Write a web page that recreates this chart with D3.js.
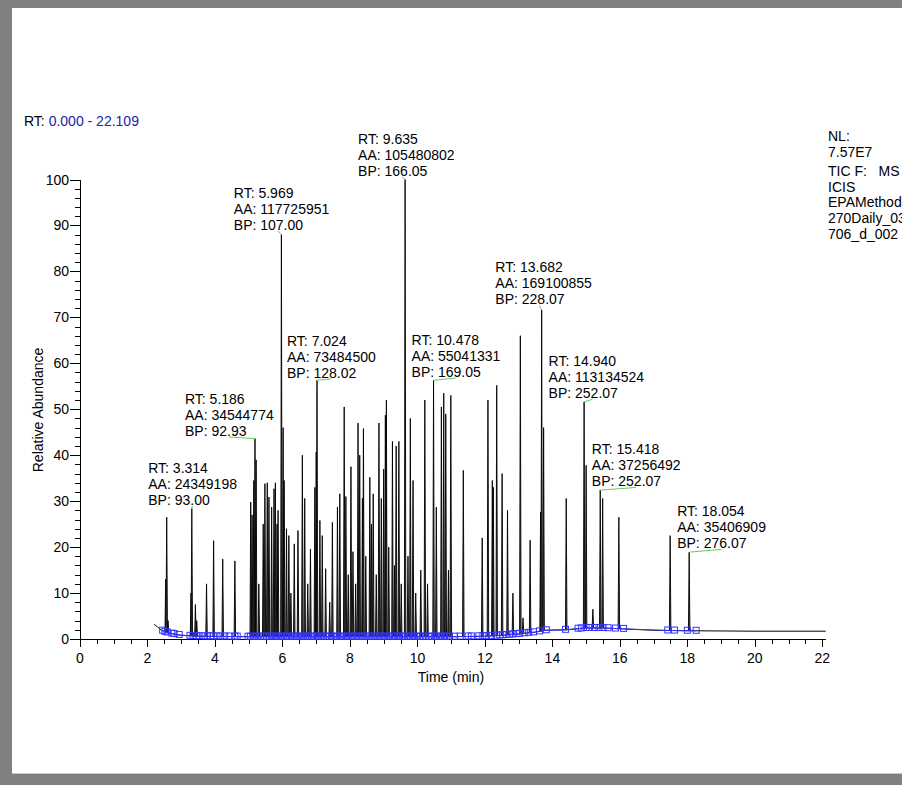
<!DOCTYPE html>
<html><head><meta charset="utf-8">
<script src="https://cdn.jsdelivr.net/npm/d3@7"></script>
<style>
html,body{margin:0;padding:0;background:#808080;}
svg{display:block;font-family:"Liberation Sans",Arial,sans-serif;}
</style></head><body>
<svg id="c" width="902" height="785"></svg>
<script>
// ---- data ----
const rtRange = ["RT:", " 0.000 - 22.109"];
const infoLines = ["NL:", "7.57E7", "TIC F:   MS", "ICIS", "EPAMethod", "270Daily_03", "706_d_002"];
const xTickValues = d3.range(0, 23, 2);
const yTickValues = d3.range(0, 101, 10);

// peaks: [retention time (min), relative abundance]
const peaks = [
 [2.54,13],[2.57,26.5],[2.61,4],
 [3.29,10],[3.314,28.4],[3.42,7.5],[3.46,4],
 [3.75,12],[3.96,21.4],[4.23,17.4],[4.59,17],
 [5.06,29.8],[5.10,27],[5.15,34.5],[5.186,43.6],[5.22,39],[5.30,12],[5.43,25],[5.48,33.8],
 [5.55,34],[5.60,30.9],[5.68,28.7],[5.75,32.7],[5.79,34],[5.84,25],[5.87,28],[5.969,88],
 [6.02,46],[6.05,34.5],[6.12,24],[6.19,22.5],[6.25,10],[6.35,20.7],[6.46,23.6],[6.59,40],
 [6.66,30.6],[6.75,12],[6.83,19.6],[6.96,33],[7.00,40.7],[7.024,56.3],[7.11,25.8],[7.18,22.5],
 [7.28,15.3],[7.40,8],[7.48,25.4],[7.63,28.7],[7.70,31.6],[7.83,50.5],[7.88,31],[7.95,14],
 [8.03,37.5],[8.09,19],[8.17,12],[8.24,47],[8.29,40],[8.37,30.6],[8.40,45.8],[8.47,18],
 [8.59,35.2],[8.64,25],[8.69,31.6],[8.78,14],[8.86,47],[8.93,30.6],[9.00,37],[9.05,48.7],
 [9.08,52],[9.15,20],[9.26,43],[9.32,16],[9.37,42],[9.45,43],[9.52,12],[9.635,100],
 [9.72,18],[9.79,48],[9.87,34.5],[9.95,10],[10.10,15],[10.22,52],[10.30,12],[10.478,56.3],
 [10.56,28.7],[10.71,50.5],[10.78,53.5],[10.84,49],[10.92,15],[10.99,53],[11.36,36.7],
 [11.92,22],[12.09,52],[12.22,34.5],[12.25,33],[12.35,55.2],[12.51,36],[12.67,28],[12.83,10],
 [13.05,66],[13.13,4.6],[13.34,21.5],[13.65,27.6],[13.682,71.6],[13.74,46],
 [14.41,30.6],[14.94,51.6],[15.00,37.8],[15.20,6.5],[15.418,32.4],[15.49,30.6],[15.97,26.5],
 [17.49,22.5],[18.054,18.9]
];

// baseline of the trace: [time, relative abundance]
const baseline = [
 [2.2,3.2],[2.3,2.6],[2.4,2.0],[2.5,1.6],[2.7,1.2],[3.0,0.8],[3.5,0.6],[5,0.5],[11,0.5],
 [12,0.6],[12.5,0.8],[13,1.1],[13.5,1.5],[13.8,1.9],[14.4,2.0],[15.0,2.4],[15.5,2.4],
 [16.1,2.2],[17,1.9],[18,1.8],[20,1.7],[22.1,1.7]
];

// ICIS peak start/end markers (times)
const markers = [
 2.45,2.52,2.59,2.72,2.79,2.94,3.26,3.35,3.45,3.53,3.67,3.77,3.87,3.95,4.06,4.17,4.29,4.42,4.59,4.66,
 4.98,5.05,5.13,5.21,5.28,5.35,5.43,5.53,5.61,5.68,5.75,5.82,5.90,5.97,6.04,6.12,6.20,6.27,6.34,6.42,
 6.49,6.56,6.63,6.70,6.78,6.86,6.93,7.00,7.07,7.15,7.22,7.30,7.38,7.45,7.53,7.60,7.68,7.75,7.82,7.90,
 7.97,8.05,8.12,8.20,8.27,8.35,8.42,8.50,8.57,8.65,8.72,8.80,8.87,8.95,9.02,9.10,9.17,9.25,9.32,9.40,
 9.47,9.55,9.62,9.70,9.77,9.85,9.92,10.00,10.07,10.15,10.25,10.35,10.42,10.50,10.57,10.65,10.72,10.80,
 10.87,10.95,11.10,11.27,11.50,11.60,11.82,11.94,12.04,12.19,12.34,12.44,12.53,12.63,12.73,12.83,12.95,
 13.03,13.18,13.30,13.44,13.62,13.82,14.39,14.76,14.86,15.00,15.10,15.25,15.38,15.50,15.65,15.87,16.11,
 17.42,17.62,18.00,18.26
];

// annotated peaks
const annotations = [
 {rt:"3.314", aa:"24349198", bp:"93.00"},
 {rt:"5.186", aa:"34544774", bp:"92.93"},
 {rt:"5.969", aa:"117725951", bp:"107.00"},
 {rt:"7.024", aa:"73484500", bp:"128.02"},
 {rt:"9.635", aa:"105480802", bp:"166.05"},
 {rt:"10.478", aa:"55041331", bp:"169.05"},
 {rt:"13.682", aa:"169100855", bp:"228.07"},
 {rt:"14.940", aa:"113134524", bp:"252.07"},
 {rt:"15.418", aa:"37256492", bp:"252.07"},
 {rt:"18.054", aa:"35406909", bp:"276.07"}
];
// label placement relative to the peak apex (px)
const labelOffsets = [[-43.6,-8.7],[-70,-8],[-47.6,-10],[-30,-7.7],[-47,-9],[-22,-8.6],[-46.3,-10.7],[-35.5,-9],[-8.4,-9],[-12,-9]];

// ---- drawing ----
const svg = d3.select("#c");
svg.append("rect").attr("x",12).attr("y",8).attr("width",890).attr("height",765).attr("fill","#fff");
svg.append("line").attr("x1",12).attr("x2",902).attr("y1",773.5).attr("y2",773.5).attr("stroke","#c8c8c8");

const x = d3.scaleLinear().domain([0,22.109]).range([80,826]);
const y = d3.scaleLinear().domain([0,100]).range([639,179.5]);
const baseAt = t => {
  const i = d3.bisector(d=>d[0]).left(baseline, t);
  if (i<=0) return baseline[0][1];
  if (i>=baseline.length) return baseline[baseline.length-1][1];
  const a=baseline[i-1], b=baseline[i];
  return a[1] + (b[1]-a[1])*(t-a[0])/(b[0]-a[0]);
};

const FS = 14;
// RT range
const rtT = svg.append("text").attr("x",24).attr("y",126).attr("font-size",FS).style("white-space","pre");
rtT.append("tspan").attr("fill","#000").text(rtRange[0]);
rtT.append("tspan").attr("fill","#2222aa").text(rtRange[1]);

// info block
const infoY = [140.5, 157, 175.5, 191.5, 207, 222.5, 238.5];
svg.append("g").selectAll("text").data(infoLines).join("text")
  .attr("x",828).attr("y",(d,i)=>infoY[i]).attr("font-size",FS).style("white-space","pre").text(d=>d);

// axes
const axG = svg.append("g").attr("stroke","#000").attr("stroke-width",1).attr("shape-rendering","crispEdges");
axG.append("line").attr("x1",x(0)).attr("x2",x(22.109)).attr("y1",y(0)).attr("y2",y(0));
axG.append("line").attr("x1",x(0)).attr("x2",x(0)).attr("y1",y(0)).attr("y2",y(100));
d3.range(0,22.01,0.5).forEach(t=>{
  const major = Math.abs(t%2)<1e-6;
  axG.append("line").attr("x1",Math.round(x(t))+0.5).attr("x2",Math.round(x(t))+0.5)
    .attr("y1",y(0)).attr("y2",y(0)+(major?8:5));
});
d3.range(0,100.01,2).forEach(v=>{
  const major = v%10===0;
  axG.append("line").attr("x1",x(0)-(major?10:5)).attr("x2",x(0))
    .attr("y1",Math.round(y(v))+0.5).attr("y2",Math.round(y(v))+0.5);
});
svg.append("g").selectAll("text").data(xTickValues).join("text")
  .attr("x",d=>x(d)).attr("y",y(0)+24).attr("text-anchor","middle").attr("font-size",FS).text(d=>d);
svg.append("g").selectAll("text").data(yTickValues).join("text")
  .attr("x",x(0)-11).attr("y",d=>y(d)+5).attr("text-anchor","end").attr("font-size",FS).text(d=>d);
svg.append("text").attr("x",451).attr("y",682).attr("text-anchor","middle").attr("font-size",FS).text("Time (min)");
svg.append("text").attr("transform","translate(43,410) rotate(-90)").attr("text-anchor","middle").attr("font-size",FS).text("Relative Abundance");

// trace baseline
const line = d3.line().x(d=>x(d[0])).y(d=>y(d[1]));
svg.append("path").attr("d",line(baseline)).attr("fill","none").attr("stroke","#000").attr("stroke-width",1);

// peaks
const w = 0.022;
svg.append("g").selectAll("path").data(peaks).join("path")
  .attr("d",d=>{const b=baseAt(d[0]); return line([[d[0]-w,b],[d[0],d[1]+b*0],[d[0]+w,b]]);})
  .attr("fill","#555").attr("stroke","#000").attr("stroke-width",0.9).attr("stroke-linejoin","miter");

// ICIS baseline + markers
const mk = markers.map(t=>[t, baseAt(t)]);
svg.append("path").attr("d",line(mk)).attr("fill","none").attr("stroke","#3333ff").attr("stroke-width",1);
svg.append("g").selectAll("rect").data(mk).join("rect")
  .attr("x",d=>x(d[0])-3).attr("y",d=>y(d[1])-3.5).attr("width",6).attr("height",6)
  .attr("fill","none").attr("stroke","#3333ff").attr("stroke-width",1);

// annotations
annotations.forEach((a,i)=>{
  const t = +a.rt;
  const pk = peaks.find(p=>Math.abs(p[0]-t)<1e-6);
  const px = x(t), py = y(pk[1]);
  const lx = px + labelOffsets[i][0], cy = py + labelOffsets[i][1];
  svg.append("line").attr("x1",px).attr("y1",py).attr("x2",lx+44).attr("y2",cy+6.3)
    .attr("stroke","#66cc66").attr("stroke-width",1);
  const g = svg.append("text").attr("font-size",FS).attr("fill","#000");
  ["RT: "+a.rt,"AA: "+a.aa,"BP: "+a.bp].forEach((s,j)=>{
    g.append("tspan").attr("x",lx).attr("y",cy+5-32+16*j).text(s);
  });
});
</script>
</body></html>
